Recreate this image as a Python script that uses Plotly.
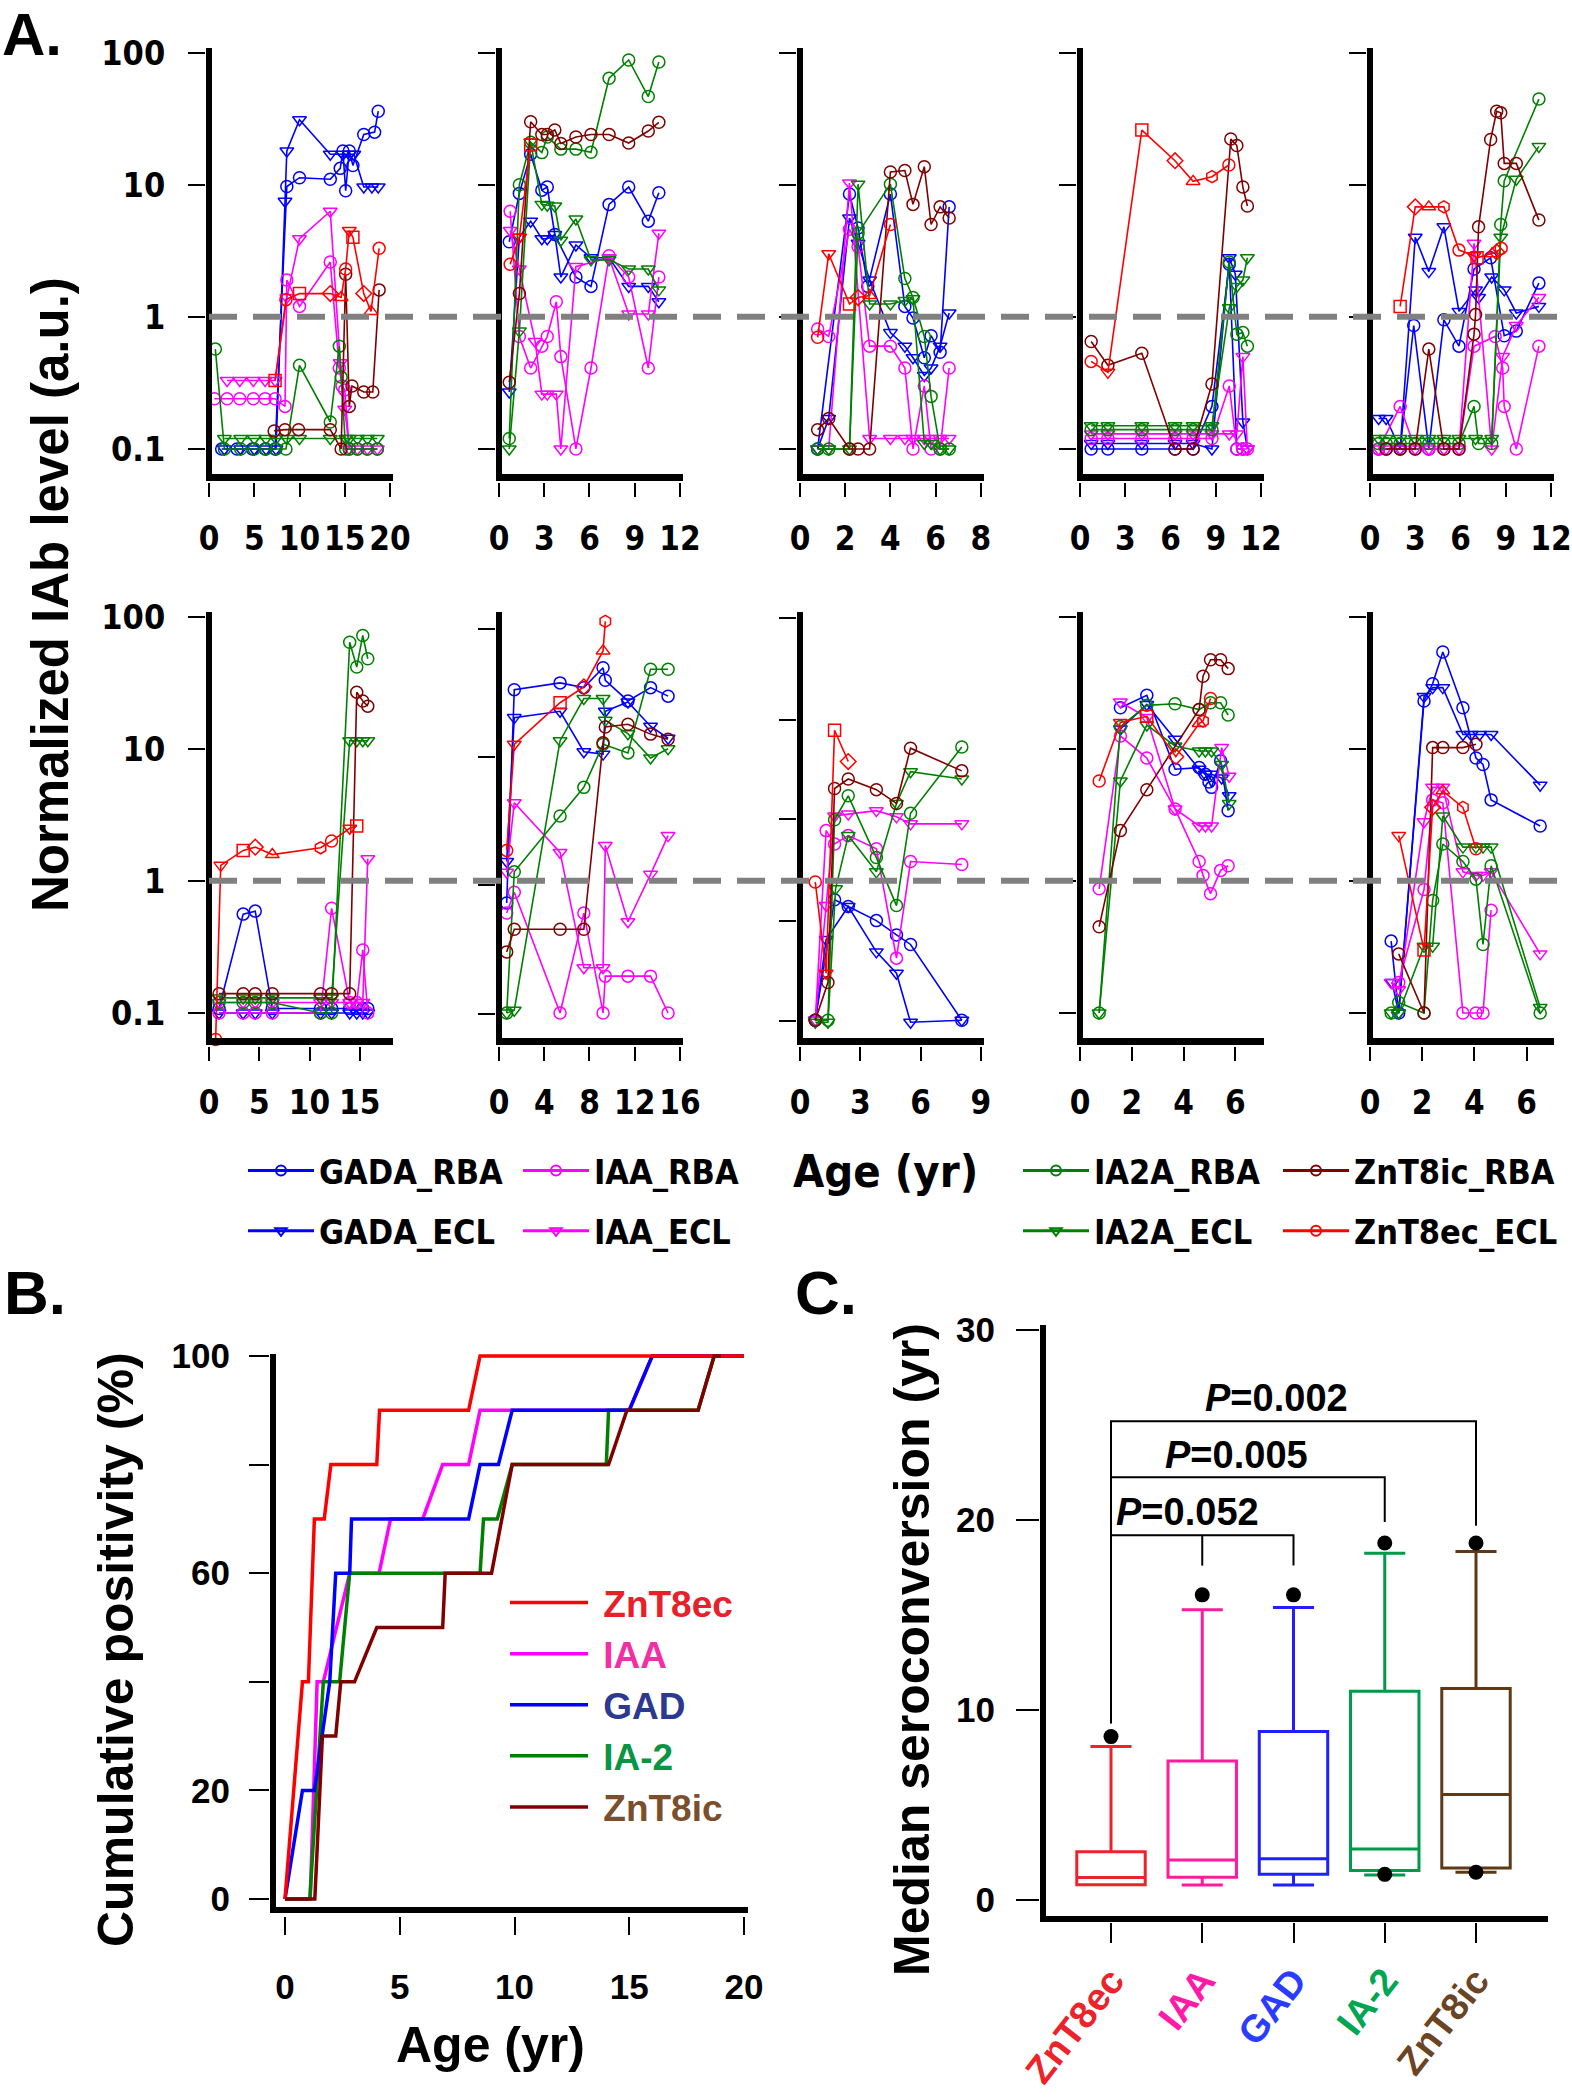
import plotly.graph_objects as go

W, H = 1572, 2100

# ---------------------------------------------------------------- Panel A data
SERIES = ["GADA_RBA", "GADA_ECL", "IAA_RBA", "IAA_ECL",
          "IA2A_RBA", "IA2A_ECL", "ZnT8ic_RBA", "ZnT8ec_ECL"]

# row 1, panel 1
p1_GADA_RBA_age = [1.4, 3.1, 4.8, 6.2, 7.3, 8.6, 10.0, 13.4, 14.5, 14.8, 15.1, 15.5, 15.9, 17.1, 18.3, 18.7]
p1_GADA_RBA_val = [0.1, 0.1, 0.1, 0.1, 0.1, 9.7, 11.3, 11.0, 13.3, 18.0, 9.0, 18.0, 14.0, 24.0, 25.0, 36.0]
p1_GADA_ECL_age = [1.7, 3.5, 5.0, 6.3, 7.4, 8.4, 8.6, 10.0, 13.4, 14.8, 15.5, 16.0, 17.1, 18.0, 18.7]
p1_GADA_ECL_val = [0.1, 0.1, 0.1, 0.1, 0.1, 7.5, 18.0, 31.0, 17.0, 17.0, 17.0, 17.0, 9.6, 9.6, 9.6]
p1_IAA_RBA_age = [0.6, 2.0, 3.4, 4.9, 6.2, 7.3, 8.4, 8.6, 10.0, 13.4, 14.4, 14.7, 15.0, 15.5, 16.4, 17.5, 18.6]
p1_IAA_RBA_val = [0.24, 0.24, 0.24, 0.24, 0.24, 0.24, 0.21, 1.9, 1.2, 2.6, 0.41, 0.3, 0.28, 0.1, 0.1, 0.1, 0.1]
p1_IAA_ECL_age = [2.0, 3.4, 4.9, 6.2, 7.3, 8.6, 10.0, 13.4, 14.5, 15.0, 15.5, 16.4, 17.5, 18.6]
p1_IAA_ECL_val = [0.33, 0.33, 0.33, 0.33, 0.33, 1.4, 3.9, 6.3, 0.45, 0.2, 0.1, 0.1, 0.1, 0.1]
p1_IA2A_RBA_age = [0.7, 1.7, 3.5, 5.0, 6.3, 7.4, 8.5, 10.0, 13.4, 14.4, 14.6, 15.1, 15.5, 16.4, 17.5, 18.6]
p1_IA2A_RBA_val = [0.57, 0.1, 0.1, 0.1, 0.1, 0.1, 0.1, 0.43, 0.16, 0.6, 0.35, 0.1, 0.1, 0.1, 0.1, 0.1]
p1_IA2A_ECL_age = [1.7, 3.5, 5.0, 6.3, 7.4, 8.6, 10.0, 13.4, 15.1, 15.5, 16.4, 17.5, 18.6]
p1_IA2A_ECL_val = [0.12, 0.12, 0.12, 0.12, 0.12, 0.12, 0.12, 0.12, 0.12, 0.12, 0.12, 0.12, 0.12]
p1_ZnT8ic_RBA_age = [7.2, 8.4, 9.9, 13.4, 14.6, 15.1, 15.5, 15.8, 17.1, 18.1, 18.8]
p1_ZnT8ic_RBA_val = [0.137, 0.14, 0.14, 0.14, 0.1, 2.1, 0.21, 0.3, 0.27, 0.27, 1.6]
p1_ZnT8ec_ECL_age = [7.3, 8.5, 10.0, 13.4, 14.6, 15.1, 15.5, 15.9, 17.1, 17.9, 18.8]
p1_ZnT8ec_ECL_val = [0.33, 1.35, 1.5, 1.5, 1.4, 2.3, 4.5, 4.0, 1.5, 1.1, 3.3]
p1_ZnT8ec_ECL_sym = "sosd^ovsd^o"

# row 1, panel 2
p2_GADA_RBA_age = [0.68, 1.35, 2.1, 2.84, 3.2, 3.7, 5.1, 6.1, 7.3, 8.6, 9.9, 10.6]
p2_GADA_RBA_val = [3.7, 8.6, 17, 9.1, 9.6, 4.2, 2.0, 1.7, 7.1, 9.6, 5.3, 8.7]
p2_GADA_ECL_age = [0.68, 1.35, 2.1, 2.84, 3.2, 3.7, 4.1, 5.1, 6.1, 7.3, 8.6, 9.9, 10.6]
p2_GADA_ECL_val = [0.27, 4.0, 5.3, 3.9, 3.9, 4.2, 2.0, 3.5, 2.8, 2.8, 1.7, 1.7, 1.3]
p2_IAA_RBA_age = [0.74, 1.35, 2.1, 2.84, 3.2, 3.8, 4.1, 5.1, 6.1, 7.3, 8.6, 9.9, 10.6]
p2_IAA_RBA_val = [6.3, 0.71, 0.41, 0.6, 0.71, 1.3, 0.5, 0.1, 0.41, 2.9, 2.0, 0.41, 2.0]
p2_IAA_ECL_age = [0.74, 1.35, 2.4, 2.84, 3.2, 3.8, 4.1, 5.1, 7.3, 8.6, 9.9, 10.6]
p2_IAA_ECL_val = [4.5, 2.3, 0.65, 0.26, 0.26, 0.26, 0.1, 2.4, 2.8, 1.05, 1.05, 4.3]
p2_IA2A_RBA_age = [0.68, 1.35, 2.1, 2.84, 3.2, 4.1, 5.1, 6.1, 7.3, 8.6, 9.9, 10.6]
p2_IA2A_RBA_val = [0.12, 10, 21, 17.5, 23, 18.6, 18.6, 17.6, 64, 88, 46.5, 85]
p2_IA2A_ECL_age = [0.68, 1.35, 2.1, 2.84, 3.2, 3.7, 4.1, 5.1, 6.1, 7.3, 8.6, 9.9, 10.6]
p2_IA2A_ECL_val = [0.1, 0.78, 21, 7.1, 7.0, 6.9, 3.8, 5.5, 2.7, 2.7, 2.3, 2.3, 1.6]
p2_ZnT8ic_RBA_age = [0.68, 1.35, 2.1, 2.84, 3.2, 3.7, 4.1, 5.1, 6.1, 7.3, 8.6, 9.9, 10.6]
p2_ZnT8ic_RBA_val = [0.32, 1.5, 30, 24, 24, 26, 20.5, 23, 24, 24, 20.7, 25.5, 29.7]
p2_ZnT8ec_ECL_age = [0.74, 1.35, 2.1]
p2_ZnT8ec_ECL_val = [2.5, 4.0, 20]
p2_ZnT8ec_ECL_sym = "ovs"

# row 1, panel 3
p3_GADA_RBA_age = [0.78, 2.19, 2.57, 3.0, 4.0, 4.64, 5.0, 5.5, 5.8, 6.2, 6.6]
p3_GADA_RBA_val = [0.1, 8.5, 4.7, 1.7, 8.5, 1.2, 0.98, 0.49, 0.72, 0.54, 6.8]
p3_GADA_ECL_age = [0.78, 1.27, 2.19, 2.57, 3.08, 4.0, 4.64, 5.0, 5.5, 5.8, 6.2, 6.6]
p3_GADA_ECL_val = [0.1, 0.17, 5.6, 3.6, 1.9, 0.76, 0.6, 0.49, 0.36, 0.41, 0.6, 1.07]
p3_IAA_RBA_age = [0.78, 1.27, 2.19, 2.57, 3.08, 4.0, 4.64, 5.0, 5.5, 5.8, 6.2, 6.6]
p3_IAA_RBA_val = [0.81, 0.71, 4.6, 3.4, 0.6, 0.6, 0.41, 0.1, 0.3, 0.1, 0.1, 0.41]
p3_IAA_ECL_age = [0.78, 1.27, 2.19, 3.08, 4.0, 4.64, 5.0, 5.5, 5.8, 6.2, 6.6]
p3_IAA_ECL_val = [0.1, 0.1, 10.3, 0.12, 0.12, 0.12, 0.12, 0.12, 0.12, 0.12, 0.12]
p3_IA2A_RBA_age = [0.78, 1.27, 2.19, 2.57, 4.0, 4.64, 5.0, 5.5, 5.8, 6.2, 6.6]
p3_IA2A_RBA_val = [0.1, 0.1, 0.1, 4.3, 10.1, 1.95, 1.4, 0.71, 0.25, 0.1, 0.1]
p3_IA2A_ECL_age = [0.78, 1.27, 2.19, 2.57, 3.08, 4.0, 4.64, 5.0, 5.5, 5.8, 6.2, 6.6]
p3_IA2A_ECL_val = [0.1, 0.1, 0.1, 10.1, 1.25, 1.25, 1.33, 1.37, 0.11, 0.11, 0.1, 0.1]
p3_ZnT8ic_RBA_age = [0.78, 1.27, 2.19, 2.57, 3.08, 4.0, 4.64, 5.0, 5.5, 5.8, 6.2, 6.6]
p3_ZnT8ic_RBA_val = [0.14, 0.17, 0.1, 0.1, 0.1, 12.5, 12.8, 7.1, 13.7, 5.0, 6.8, 5.6]
p3_ZnT8ec_ECL_age = [0.78, 1.27, 2.19, 2.57, 3.08, 4.0]
p3_ZnT8ec_ECL_val = [0.7, 3.0, 1.25, 1.4, 1.45, 5.0]
p3_ZnT8ec_ECL_sym = "ovsd^o"

# row 1, panel 4
p4_GADA_RBA_age = [0.74, 1.85, 4.1, 6.3, 7.5, 8.75, 9.9, 10.4, 10.8]
p4_GADA_RBA_val = [0.1, 0.1, 0.1, 0.1, 0.1, 0.21, 2.5, 0.1, 0.1]
p4_GADA_ECL_age = [0.74, 1.85, 4.1, 6.3, 7.5, 8.75, 9.9, 10.3, 10.8, 11.1]
p4_GADA_ECL_val = [0.11, 0.11, 0.11, 0.11, 0.11, 0.1, 2.8, 2.1, 0.16, 0.1]
p4_IAA_RBA_age = [0.74, 1.85, 4.1, 6.3, 7.5, 8.75, 9.9, 10.4, 10.8, 11.1]
p4_IAA_RBA_val = [0.12, 0.12, 0.12, 0.12, 0.12, 0.12, 0.3, 0.1, 0.1, 0.1]
p4_IAA_ECL_age = [0.74, 1.85, 4.1, 6.3, 7.5, 8.75, 9.9, 10.4, 10.8, 11.1]
p4_IAA_ECL_val = [0.13, 0.13, 0.13, 0.13, 0.13, 0.13, 0.13, 0.13, 0.5, 0.1]
p4_IA2A_RBA_age = [0.74, 1.85, 4.1, 6.3, 7.5, 8.75, 9.9, 10.4, 10.8, 11.1]
p4_IA2A_RBA_val = [0.14, 0.14, 0.14, 0.14, 0.14, 0.14, 2.6, 0.74, 0.76, 0.6]
p4_IA2A_ECL_age = [0.74, 1.85, 4.1, 6.3, 7.5, 8.75, 9.9, 10.4, 10.8, 11.1]
p4_IA2A_ECL_val = [0.15, 0.15, 0.15, 0.15, 0.15, 0.15, 1.17, 1.7, 1.9, 2.8]
p4_ZnT8ic_RBA_age = [0.74, 1.85, 4.1, 6.3, 7.5, 8.75, 10.0, 10.4, 10.8, 11.1]
p4_ZnT8ic_RBA_val = [0.65, 0.43, 0.53, 0.1, 0.1, 0.31, 22.2, 19.8, 9.6, 6.9]
p4_ZnT8ec_ECL_age = [0.74, 1.85, 4.1, 6.3, 7.5, 8.75, 9.87]
p4_ZnT8ec_ECL_val = [0.46, 0.38, 25.9, 15.2, 10.6, 11.5, 14.1]
p4_ZnT8ec_ECL_sym = "ovsd^ho"

# row 1, panel 5
p5_GADA_RBA_age = [0.57, 1.07, 2.0, 2.9, 3.9, 4.9, 5.9, 6.9, 8.0, 8.9, 9.7, 11.2]
p5_GADA_RBA_val = [0.1, 0.1, 0.1, 0.86, 0.1, 0.95, 0.6, 2.3, 2.8, 0.72, 0.78, 1.8]
p5_GADA_ECL_age = [0.57, 1.07, 2.0, 3.0, 3.9, 4.9, 5.9, 7.0, 7.2, 8.07, 8.9, 9.7, 11.2]
p5_GADA_ECL_val = [0.17, 0.17, 0.1, 4.0, 2.2, 4.8, 1.1, 1.6, 1.4, 2.0, 1.6, 1.07, 1.2]
p5_IAA_RBA_age = [0.57, 2.0, 3.0, 3.9, 4.9, 5.9, 6.9, 8.3, 8.8, 8.9, 9.7, 11.2]
p5_IAA_RBA_val = [0.1, 0.21, 0.1, 0.1, 0.1, 0.1, 0.6, 0.71, 0.41, 0.21, 0.1, 0.6]
p5_IAA_ECL_age = [0.57, 1.07, 2.0, 3.0, 3.9, 4.9, 5.9, 6.9, 8.07, 8.8, 9.7, 11.2]
p5_IAA_ECL_val = [0.1, 0.1, 0.1, 0.1, 0.1, 0.1, 0.1, 3.6, 0.1, 0.5, 0.86, 1.4]
p5_IA2A_RBA_age = [0.57, 1.07, 2.0, 3.0, 3.9, 4.9, 5.9, 6.9, 7.2, 8.07, 8.67, 8.9, 11.2]
p5_IA2A_RBA_val = [0.11, 0.11, 0.11, 0.11, 0.11, 0.11, 0.11, 0.21, 0.11, 0.11, 5.0, 10.7, 44.5]
p5_IA2A_ECL_age = [0.57, 1.07, 2.0, 3.0, 3.9, 4.9, 5.9, 7.0, 8.07, 8.67, 9.7, 11.2]
p5_IA2A_ECL_val = [0.12, 0.12, 0.12, 0.12, 0.12, 0.12, 0.12, 0.12, 0.12, 4.0, 11, 19.5]
p5_ZnT8ic_RBA_age = [1.07, 2.0, 3.0, 3.9, 4.9, 5.9, 6.9, 7.0, 7.2, 8.0, 8.4, 8.67, 8.9, 9.7, 11.2]
p5_ZnT8ic_RBA_val = [0.1, 0.1, 0.1, 0.57, 0.1, 0.1, 0.74, 1.04, 4.8, 22, 36, 35, 14.5, 14.5, 5.4]
p5_ZnT8ec_ECL_age = [2.0, 3.0, 3.9, 4.9, 5.9, 6.9, 7.1, 8.1, 8.4, 8.7]
p5_ZnT8ec_ECL_val = [1.2, 6.8, 6.8, 6.8, 3.2, 2.9, 2.8, 3.0, 3.1, 3.3]
p5_ZnT8ec_ECL_sym = "sd^hovs^do"

# row 2, panel 1
p6_GADA_RBA_age = [1.0, 3.4, 4.6, 6.3, 11.1, 12.2, 14.0, 14.7, 15.3, 15.8]
p6_GADA_RBA_val = [0.108, 0.56, 0.59, 0.108, 0.108, 0.108, 0.108, 0.108, 0.108, 0.108]
p6_GADA_ECL_age = [1.0, 3.4, 4.6, 6.3, 11.1, 12.2, 14.0, 14.7, 15.3, 15.8]
p6_GADA_ECL_val = [0.1, 0.1, 0.1, 0.1, 0.1, 0.1, 0.1, 0.1, 0.1, 0.1]
p6_IAA_RBA_age = [1.0, 3.4, 4.6, 6.3, 11.1, 12.2, 14.0, 14.7, 15.3, 15.8]
p6_IAA_RBA_val = [0.1, 0.1, 0.1, 0.1, 0.1, 0.62, 0.12, 0.12, 0.3, 0.1]
p6_IAA_ECL_age = [1.0, 3.4, 4.6, 6.3, 11.1, 12.2, 14.0, 14.7, 15.3, 15.8]
p6_IAA_ECL_val = [0.12, 0.12, 0.12, 0.12, 0.12, 0.12, 0.12, 0.12, 0.12, 1.47]
p6_IA2A_RBA_age = [1.0, 3.4, 4.6, 6.3, 11.1, 12.2, 14.0, 14.7, 15.3, 15.8]
p6_IA2A_RBA_val = [0.12, 0.12, 0.12, 0.12, 0.1, 0.1, 64, 41.5, 72, 48]
p6_IA2A_ECL_age = [1.0, 3.4, 4.6, 6.3, 11.1, 12.2, 14.0, 14.7, 15.3, 15.8]
p6_IA2A_ECL_val = [0.13, 0.13, 0.13, 0.13, 0.13, 0.13, 11.5, 11.5, 11.5, 11.5]
p6_ZnT8ic_RBA_age = [1.0, 3.4, 4.6, 6.3, 11.1, 12.2, 14.0, 14.7, 15.3, 15.8]
p6_ZnT8ic_RBA_val = [0.14, 0.14, 0.14, 0.14, 0.14, 0.14, 0.14, 26.8, 23, 21]
p6_ZnT8ec_ECL_age = [0.66, 1.17, 3.4, 4.6, 6.3, 11.1, 12.2, 14.0, 14.7]
p6_ZnT8ec_ECL_val = [0.063, 1.31, 1.7, 1.8, 1.58, 1.78, 2.0, 2.5, 2.6]
p6_ZnT8ec_ECL_sym = "ovsd^hovs"

# row 2, panel 2
p7_GADA_RBA_age = [0.68, 1.35, 5.4, 7.5, 9.2, 9.4, 11.4, 13.4, 14.95]
p7_GADA_RBA_val = [0.68, 28, 31.5, 29, 41, 33, 23, 29, 25]
p7_GADA_ECL_age = [0.68, 1.35, 5.4, 7.5, 9.2, 9.4, 11.4, 13.4, 14.95]
p7_GADA_ECL_val = [1.4, 17.2, 19.2, 9.5, 9.1, 19.2, 22.6, 14.8, 12]
p7_IAA_RBA_age = [0.68, 1.35, 5.4, 7.5, 9.2, 9.4, 11.4, 13.4, 14.95]
p7_IAA_RBA_val = [0.57, 0.82, 0.1, 0.57, 0.1, 0.19, 0.19, 0.19, 0.1]
p7_IAA_ECL_age = [0.68, 1.35, 5.4, 7.5, 9.2, 9.4, 11.4, 13.4, 14.95]
p7_IAA_ECL_val = [1.16, 3.9, 1.64, 0.22, 0.22, 1.85, 0.49, 1.12, 2.2]
p7_IA2A_RBA_age = [0.68, 1.35, 5.4, 7.5, 9.2, 11.4, 13.4, 14.95]
p7_IA2A_RBA_val = [0.1, 1.17, 3.1, 5.1, 10.8, 9.3, 40, 40]
p7_IA2A_ECL_age = [0.68, 1.35, 5.4, 7.5, 9.2, 9.4, 11.4, 13.4, 14.95]
p7_IA2A_ECL_val = [0.1, 0.105, 11.5, 24, 24, 16.4, 13, 8.5, 10]
p7_ZnT8ic_RBA_age = [0.68, 1.35, 5.4, 7.5, 9.2, 9.4, 11.4, 13.4, 14.95]
p7_ZnT8ic_RBA_val = [0.29, 0.43, 0.43, 0.43, 11.1, 14.6, 15.3, 12.9, 11.8]
p7_ZnT8ec_ECL_age = [0.68, 1.35, 5.4, 7.5, 9.2, 9.4]
p7_ZnT8ec_ECL_val = [1.7, 10.8, 22.3, 29.4, 55, 92]
p7_ZnT8ec_ECL_sym = "ovsd^h"

# row 2, panel 3
p8_GADA_RBA_age = [0.76, 1.72, 2.4, 3.8, 4.8, 5.5, 8.05]
p8_GADA_RBA_val = [0.088, 0.72, 0.64, 0.5, 0.39, 0.33, 0.088]
p8_GADA_ECL_age = [0.76, 1.3, 2.4, 3.8, 4.8, 5.5, 8.05]
p8_GADA_ECL_val = [0.088, 0.36, 0.64, 0.29, 0.2, 0.085, 0.088]
p8_IAA_RBA_age = [0.76, 1.3, 1.72, 2.4, 3.8, 4.8, 5.5, 8.05]
p8_IAA_RBA_val = [0.088, 2.4, 1.9, 2.2, 1.75, 0.26, 1.4, 1.33]
p8_IAA_ECL_age = [0.76, 1.3, 1.72, 2.4, 3.8, 4.8, 5.5, 8.05]
p8_IAA_ECL_val = [0.088, 0.65, 3.1, 3.2, 3.4, 3.05, 2.7, 2.7]
p8_IA2A_RBA_age = [0.76, 1.39, 1.72, 2.4, 3.8, 4.8, 5.5, 8.05]
p8_IA2A_RBA_val = [0.088, 0.088, 2.9, 4.4, 1.5, 0.65, 3.25, 10.3]
p8_IA2A_ECL_age = [0.76, 1.39, 1.77, 2.4, 3.8, 4.8, 5.5, 8.05]
p8_IA2A_ECL_val = [0.085, 0.085, 0.87, 2.2, 1.17, 3.85, 6.7, 5.9]
p8_ZnT8ic_RBA_age = [0.76, 1.39, 1.72, 2.4, 3.8, 4.8, 5.5, 8.05]
p8_ZnT8ic_RBA_val = [0.088, 0.17, 5.0, 5.9, 4.9, 3.85, 10.1, 6.8]
p8_ZnT8ec_ECL_age = [0.76, 1.3, 1.72, 2.4]
p8_ZnT8ec_ECL_val = [0.98, 0.2, 13.8, 8.0]
p8_ZnT8ec_ECL_sym = "ovsd"

# row 2, panel 4
p9_GADA_RBA_age = [1.56, 2.58, 3.67, 4.6, 4.84, 4.98, 5.08, 5.43, 5.72]
p9_GADA_RBA_val = [20.4, 25.4, 7.0, 7.2, 6.4, 5.6, 5.1, 8.1, 3.4]
p9_GADA_ECL_age = [1.56, 2.58, 3.67, 4.6, 4.84, 5.08, 5.47, 5.76]
p9_GADA_ECL_val = [14.1, 21.6, 11.8, 7.0, 6.4, 6.4, 6.0, 4.4]
p9_IAA_RBA_age = [0.74, 1.56, 2.58, 3.67, 4.6, 4.75, 5.04, 5.43, 5.72]
p9_IAA_RBA_val = [0.87, 12.5, 8.5, 3.5, 1.4, 1.1, 0.8, 1.2, 1.3]
p9_IAA_ECL_age = [1.56, 2.58, 3.67, 4.6, 4.84, 5.08, 5.47, 5.76]
p9_IAA_ECL_val = [22.6, 17.2, 3.5, 2.6, 2.6, 2.6, 10.2, 6.2]
p9_IA2A_RBA_age = [0.74, 1.56, 2.58, 3.67, 4.6, 5.04, 5.43, 5.72]
p9_IA2A_RBA_val = [0.1, 14.7, 21.3, 21.9, 19.8, 22.3, 22.3, 18]
p9_IA2A_ECL_age = [0.74, 1.56, 2.58, 3.67, 4.6, 4.84, 5.08, 5.47, 5.76]
p9_IA2A_ECL_val = [0.1, 5.7, 15.1, 10.5, 9.6, 9.6, 9.6, 7.6, 3.85]
p9_ZnT8ic_RBA_age = [0.74, 1.56, 2.58, 4.6, 4.75, 5.04, 5.43, 5.72]
p9_ZnT8ic_RBA_val = [0.45, 2.4, 4.9, 19.8, 35.4, 47.2, 47.2, 40.4]
p9_ZnT8ec_ECL_age = [0.74, 1.56, 2.58, 3.7, 4.6, 4.75, 5.04]
p9_ZnT8ec_ECL_val = [5.7, 15.8, 17.6, 8.7, 15.5, 16.2, 24]
p9_ZnT8ec_ECL_sym = "ovsd^ho"

# row 2, panel 5
p10_GADA_RBA_age = [0.81, 1.1, 2.07, 2.4, 2.79, 3.56, 4.06, 4.33, 4.64, 6.52]
p10_GADA_RBA_val = [0.35, 0.1, 23, 31, 54, 20.4, 8.5, 7.6, 4.1, 2.6]
p10_GADA_ECL_age = [0.85, 1.1, 2.07, 2.4, 2.79, 3.56, 3.87, 4.2, 4.64, 6.52]
p10_GADA_ECL_val = [0.17, 0.1, 24.8, 29, 29, 12.8, 12.8, 12.8, 12.8, 5.3]
p10_IAA_RBA_age = [1.1, 2.07, 2.4, 2.79, 3.56, 4.06, 4.33, 4.64]
p10_IAA_RBA_val = [0.17, 0.86, 4.1, 3.9, 0.1, 0.1, 0.1, 0.6]
p10_IAA_ECL_age = [0.81, 1.1, 2.07, 2.4, 2.79, 3.56, 4.06, 4.33, 4.64, 6.52]
p10_IAA_ECL_val = [0.17, 0.15, 2.8, 5.1, 5.1, 1.17, 1.1, 1.1, 1.17, 0.28]
p10_IA2A_RBA_age = [0.81, 1.1, 2.07, 2.4, 2.79, 3.56, 4.06, 4.33, 4.64, 6.52]
p10_IA2A_RBA_val = [0.1, 0.12, 0.1, 0.71, 1.9, 1.4, 1.03, 0.33, 1.3, 0.1]
p10_IA2A_ECL_age = [0.81, 1.1, 2.07, 2.4, 2.79, 3.56, 4.06, 4.33, 4.64, 6.52]
p10_IA2A_ECL_val = [0.1, 0.1, 0.32, 0.32, 3.1, 1.8, 1.8, 1.8, 1.8, 0.11]
p10_ZnT8ic_RBA_age = [1.1, 2.07, 2.4, 2.79, 3.56, 4.06]
p10_ZnT8ic_RBA_val = [0.28, 0.1, 10.2, 10.2, 10.2, 10.8]
p10_ZnT8ec_ECL_age = [1.1, 2.07, 2.4, 2.79, 3.56, 4.06]
p10_ZnT8ec_ECL_val = [2.2, 0.3, 3.6, 4.8, 3.6, 1.75]
p10_ZnT8ec_ECL_sym = "vsd^ho"

A_xticks = [[0, 5, 10, 15, 20], [0, 3, 6, 9, 12], [0, 2, 4, 6, 8], [0, 3, 6, 9, 12], [0, 3, 6, 9, 12],
            [0, 5, 10, 15], [0, 4, 8, 12, 16], [0, 3, 6, 9], [0, 2, 4, 6], [0, 2, 4, 6]]
A_yticks = [0.1, 1, 10, 100]
A_yticklabels = ["0.1", "1", "10", "100"]
A_yticks_p7 = [0.098, 0.93, 8.7, 81]
A_yticks_p8 = [0.087, 0.5, 2.95, 16.6, 98]

# ---------------------------------------------------------------- Panel B data
B_ZnT8ec_age = [0, 0.76, 1.02, 1.28, 1.71, 2.0, 4.0, 4.12, 8.0, 8.5, 20]
B_ZnT8ec_pct = [0, 40, 40, 70, 70, 80, 80, 90, 90, 100, 100]
B_IAA_age = [0, 1.1, 1.4, 1.67, 2.82, 4.1, 4.6, 6.0, 6.87, 8.0, 8.5, 9.9, 15.0, 16.0, 20]
B_IAA_pct = [0, 0, 40, 40, 60, 60, 70, 70, 80, 80, 90, 90, 90, 100, 100]
B_GAD_age = [0, 0.76, 1.28, 1.95, 2.21, 2.82, 2.9, 8.0, 8.5, 9.3, 9.9, 15.0, 16.0, 20]
B_GAD_pct = [0, 20, 20, 40, 60, 60, 70, 70, 80, 80, 90, 90, 100, 100]
B_IA2_age = [0, 1.08, 1.67, 2.38, 2.82, 8.5, 8.65, 9.25, 9.9, 14.0, 14.1, 18.0, 18.7, 19.0]
B_IA2_pct = [0, 0, 40, 40, 60, 60, 70, 70, 80, 80, 90, 90, 100, 100]
B_ZnT8ic_age = [0, 1.3, 1.63, 2.21, 2.43, 3.03, 4.0, 6.87, 6.98, 9.0, 9.9, 14.1, 14.9, 18.0, 18.7, 19.0]
B_ZnT8ic_pct = [0, 0, 30, 30, 40, 40, 50, 50, 60, 60, 80, 80, 90, 90, 100, 100]
B_yticks = [0, 20, 40, 60, 80, 100]
B_yticklabels = ["0", "20", "", "60", "", "100"]
B_xticks = [0, 5, 10, 15, 20]

# ---------------------------------------------------------------- Panel C data
C_groups = ["ZnT8ec", "IAA", "GAD", "IA-2", "ZnT8ic"]
C_q1 = [0.8, 1.2, 1.35, 1.55, 1.69]
C_median = [1.18, 2.11, 2.17, 2.68, 5.55]
C_q3 = [2.54, 7.32, 8.87, 10.99, 11.13]
C_lower = [0.8, 0.79, 0.79, 1.32, 1.46]
C_upper = [8.08, 15.27, 15.4, 18.25, 18.34]
C_out_group = ["ZnT8ec", "IAA", "GAD", "IA-2", "IA-2", "ZnT8ic", "ZnT8ic"]
C_out_val = [8.6, 16.06, 16.06, 18.79, 1.35, 18.79, 1.46]
C_yticks = [0, 10, 20, 30]
C_cmp_right = ["GAD", "IA-2", "ZnT8ic"]
C_cmp_level = [19.2, 22.25, 25.2]
C_cmp_right_bottom = [17.6, 19.9, 19.7]
C_cmp_left_bottom = 9.3
C_cmp_mid = "IAA"
C_cmp_mid_bottom = 17.6
C_cmp_label = ["0.052", "0.005", "0.002"]
C_cmp_label_x = [0.03, 0.57, 1.01]
C_cmp_label_y = [20.4, 23.4, 26.4]

# ---------------------------------------------------------------- styles
NARROW = "DejaVu Sans Condensed, Liberation Sans Narrow, sans-serif"
ARIAL = "Liberation Sans, Arial, Helvetica, sans-serif"
A_COLOR = {"GADA": "#0000ff", "IAA": "#ff00ff", "IA2A": "#008000", "ZnT8ic": "#800000", "ZnT8ec": "#ff0000"}
SYM = {"o": "circle-open", "s": "square-open", "d": "diamond-open", "^": "triangle-up-open",
       "h": "hexagon-open", "v": "triangle-down-open"}
B_LINE = {"ZnT8ec": "#ff0000", "IAA": "#ff00ff", "GAD": "#0000ff", "IA-2": "#008000", "ZnT8ic": "#800000"}
B_TEXT = {"ZnT8ec": "#e8202a", "IAA": "#f52ea6", "GAD": "#2b3990", "IA-2": "#0b9444", "ZnT8ic": "#7b4f2c"}
C_BOX = {"ZnT8ec": "#ee2229", "IAA": "#ff1c9c", "GAD": "#1f1fff", "IA-2": "#009a49", "ZnT8ic": "#5e3a14"}
C_TEXT = {"ZnT8ec": "#ee2229", "IAA": "#ff1aa8", "GAD": "#2a3cff", "IA-2": "#00a651", "ZnT8ic": "#6b4423"}


def xp(p):
    return p / W


def yp(p):
    return 1 - p / H


fig = go.Figure()
shapes = []
annotations = []
layout = dict(width=W, height=H, margin=dict(l=0, r=0, t=0, b=0, autoexpand=False),
              paper_bgcolor="white", plot_bgcolor="rgba(0,0,0,0)", showlegend=True)

# ---------------------------------------------------------------- Panel A
A_P0 = [209, 499, 800, 1080, 1370]
A_ROWS = [(46, 482), (610, 1046)]
A_PPU = [[9.05, 15.08, 22.6, 15.08, 15.08], [10.05, 11.31, 20.1, 25.9, 26.1]]
YLOG = [-1.25, 2.05]

for n in range(1, 11):
    r, c = (n - 1) // 5, (n - 1) % 5
    P0 = A_P0[c]
    T, B = A_ROWS[r]
    ppu = A_PPU[r][c]
    L, R = P0 - 3, P0 + 184
    ax = "" if n == 1 else str(n)
    yt = A_yticks
    if n == 7:
        yt = A_yticks_p7
    if n == 8:
        yt = A_yticks_p8
    layout["xaxis" + ax] = dict(
        domain=[xp(L), xp(R)], range=[-3 / ppu, 184 / ppu], anchor="y" + ax,
        tickvals=A_xticks[n - 1], ticks="outside", ticklen=14, tickwidth=2, tickcolor="black",
        showline=False, showgrid=False, zeroline=False, tickangle=0,
        tickfont=dict(family=NARROW, size=33, color="black", weight="bold"),
        ticklabelstandoff=13)
    layout["yaxis" + ax] = dict(
        domain=[yp(B), yp(T)], type="log", range=YLOG, anchor="x" + ax,
        tickvals=yt, ticktext=A_yticklabels if c == 0 else None,
        showticklabels=(c == 0), ticks="outside", ticklen=17, tickwidth=2, tickcolor="black",
        showline=False, showgrid=False, zeroline=False,
        tickfont=dict(family=NARROW, size=34, color="black", weight="bold"),
        ticklabelstandoff=16)
    # thick L-shaped frame
    shapes.append(dict(type="line", xref="paper", yref="paper", x0=xp(P0), x1=xp(P0),
                       y0=yp(T + 2), y1=yp(B - 1), line=dict(color="black", width=6)))
    shapes.append(dict(type="line", xref="paper", yref="paper", x0=xp(P0 - 3), x1=xp(P0 + 184),
                       y0=yp(B - 4.5), y1=yp(B - 4.5), line=dict(color="black", width=7)))
    for s in SERIES:
        ages = globals()[f"p{n}_{s}_age"]
        vals = globals()[f"p{n}_{s}_val"]
        key = s.split("_")[0]
        col = A_COLOR[key]
        if s == "ZnT8ec_ECL":
            sym = [SYM[k] for k in globals()[f"p{n}_{s}_sym"]]
        elif s.endswith("RBA"):
            sym = "circle-open"
        else:
            sym = "triangle-down-open"
        fig.add_trace(go.Scatter(
            x=ages, y=vals, mode="lines+markers", xaxis="x" + ax, yaxis="y" + ax,
            line=dict(color=col, width=1.6),
            marker=dict(symbol=sym, size=12, color=col, line=dict(color=col, width=1.5)),
            cliponaxis=False, showlegend=False, name=s))

# dashed threshold line at 1 a.u. across each row
for ax in ["", "6"]:
    shapes.append(dict(type="line", xref="paper", yref="y" + ax, x0=xp(209), x1=xp(1560),
                       y0=1, y1=1, layer="above",
                       line=dict(color="#808080", width=6, dash="28px,16px")))

# legends for panel A (legend-only entries)
A_LEG = [("legend", ["GADA_RBA", "GADA_ECL"], 243),
         ("legend2", ["IAA_RBA", "IAA_ECL"], 518),
         ("legend3", ["IA2A_RBA", "IA2A_ECL"], 1018),
         ("legend4", ["ZnT8ic_RBA", "ZnT8ec_ECL"], 1278)]
for lg, names, xpix in A_LEG:
    for nm in names:
        key = nm.split("_")[0]
        col = A_COLOR[key]
        sym = "circle-open" if (nm.endswith("RBA") or key == "ZnT8ec") else "triangle-down-open"
        fig.add_trace(go.Scatter(
            x=[None], y=[None], mode="lines+markers", name=nm, legend=lg, legendgroup=nm,
            line=dict(color=col, width=3),
            marker=dict(symbol=sym, size=10, color=col, line=dict(color=col, width=2)),
            showlegend=True, xaxis="x", yaxis="y"))
    layout[lg] = dict(x=xp(xpix), y=yp(1142), xanchor="left", yanchor="top",
                      orientation="v", itemwidth=66, tracegroupgap=13, traceorder="grouped",
                      bgcolor="rgba(0,0,0,0)", borderwidth=0,
                      font=dict(family=NARROW, size=34, color="black", weight="bold"))

annotations.append(dict(text="Age (yr)", x=xp(886), y=yp(1171), xref="paper", yref="paper",
                        showarrow=False, xanchor="center", yanchor="middle",
                        font=dict(family=NARROW, size=45, color="black", weight="bold")))
annotations.append(dict(text="Normalized IAb level (a.u.)", x=xp(50), y=yp(595), xref="paper",
                        yref="paper", showarrow=False, textangle=-90, xanchor="center",
                        yanchor="middle", font=dict(family=ARIAL, size=51, color="black",
                                                    weight="bold")))
annotations.append(dict(text="A.", x=xp(0), y=yp(34), xref="paper", yref="paper", showarrow=False,
                        xanchor="left", yanchor="middle",
                        font=dict(family=ARIAL, size=60, color="black", weight="bold")))

# ---------------------------------------------------------------- Panel B
BL, BR, BT, BB = 270, 747, 1352, 1916
B_X0, B_PPU = 285, 22.95
B_Y0, B_YPPU = 1899, 5.43
layout["xaxis11"] = dict(domain=[xp(BL), xp(BR)],
                         range=[(BL - B_X0) / B_PPU, (BR - B_X0) / B_PPU], anchor="y11",
                         tickvals=B_xticks, ticks="outside", ticklen=18, tickwidth=2,
                         tickcolor="black", showline=False, showgrid=False, zeroline=False,
                         tickangle=0, ticklabelstandoff=22,
                         tickfont=dict(family=ARIAL, size=35, color="black", weight="bold"))
layout["yaxis11"] = dict(domain=[yp(BB), yp(BT)],
                         range=[-(BB - B_Y0) / B_YPPU, (B_Y0 - BT) / B_YPPU], anchor="x11",
                         tickvals=B_yticks, ticktext=B_yticklabels, ticks="outside", ticklen=20,
                         tickwidth=2, tickcolor="black", showline=False, showgrid=False,
                         zeroline=False, ticklabelstandoff=12,
                         tickfont=dict(family=ARIAL, size=35, color="black", weight="bold"))
shapes.append(dict(type="line", xref="paper", yref="paper", x0=xp(273), x1=xp(273),
                   y0=yp(1354), y1=yp(1913), line=dict(color="black", width=6)))
shapes.append(dict(type="line", xref="paper", yref="paper", x0=xp(270), x1=xp(748),
                   y0=yp(1910), y1=yp(1910), line=dict(color="black", width=6)))

B_SERIES = [("IAA", B_IAA_age, B_IAA_pct, 2), ("IA-2", B_IA2_age, B_IA2_pct, 4),
            ("GAD", B_GAD_age, B_GAD_pct, 3), ("ZnT8ec", B_ZnT8ec_age, B_ZnT8ec_pct, 1),
            ("ZnT8ic", B_ZnT8ic_age, B_ZnT8ic_pct, 5)]
for nm, xs, ys, rank in B_SERIES:
    fig.add_trace(go.Scatter(
        x=xs, y=ys, mode="lines", xaxis="x11", yaxis="y11",
        line=dict(color=B_LINE[nm], width=3.5), cliponaxis=False,
        name=f'\u00a0<span style="color:{B_TEXT[nm]}">{nm}</span>', legend="legend5",
        legendrank=rank, showlegend=True))
layout["legend5"] = dict(x=xp(505), y=yp(1572), xanchor="left", yanchor="top",
                         orientation="v", itemwidth=78, tracegroupgap=0,
                         bgcolor="rgba(0,0,0,0)",
                         font=dict(family=ARIAL, size=37, color="black", weight="bold"))

annotations.append(dict(text="Cumulative positivity (%)", x=xp(116), y=yp(1650), xref="paper",
                        yref="paper", showarrow=False, textangle=-90, xanchor="center",
                        yanchor="middle",
                        font=dict(family=ARIAL, size=50, color="black", weight="bold")))
annotations.append(dict(text="Age (yr)", x=xp(490), y=yp(2045), xref="paper", yref="paper",
                        showarrow=False, xanchor="center", yanchor="middle",
                        font=dict(family=ARIAL, size=50, color="black", weight="bold")))
annotations.append(dict(text="B.", x=xp(2), y=yp(1292), xref="paper", yref="paper",
                        showarrow=False, xanchor="left", yanchor="middle",
                        font=dict(family=ARIAL, size=62, color="black", weight="bold")))

# ---------------------------------------------------------------- Panel C
CL, CR, CT, CB = 1040, 1548, 1325, 1922
C_X0, C_XPPU = 1111, 91.25
C_Y0, C_YPPU = 1900, 19.0
layout["xaxis12"] = dict(domain=[xp(CL), xp(CR)], type="category", categoryorder="array",
                         categoryarray=C_groups,
                         range=[(CL - C_X0) / C_XPPU, (CR - C_X0) / C_XPPU], anchor="y12",
                         tickvals=C_groups,
                         ticktext=[f'<span style="color:{C_TEXT[g]}">{g}</span>' for g in C_groups],
                         ticks="outside", ticklen=20, tickwidth=2, tickcolor="black",
                         showline=False, showgrid=False, zeroline=False, tickangle=-52,
                         tickfont=dict(family=ARIAL, size=38, color="black", weight="bold"))
layout["yaxis12"] = dict(domain=[yp(CB), yp(CT)],
                         range=[-(CB - C_Y0) / C_YPPU, (C_Y0 - CT) / C_YPPU], anchor="x12",
                         tickvals=C_yticks, ticks="outside", ticklen=23, tickwidth=2,
                         tickcolor="black", showline=False, showgrid=False, zeroline=False,
                         ticklabelstandoff=14,
                         tickfont=dict(family=ARIAL, size=35, color="black", weight="bold"))
shapes.append(dict(type="line", xref="paper", yref="paper", x0=xp(1043), x1=xp(1043),
                   y0=yp(1325), y1=yp(1922), line=dict(color="black", width=6)))
shapes.append(dict(type="line", xref="paper", yref="paper", x0=xp(1040), x1=xp(1548),
                   y0=yp(1919), y1=yp(1919), line=dict(color="black", width=6)))

for i, g in enumerate(C_groups):
    fig.add_trace(go.Box(
        x=[g], q1=[C_q1[i]], median=[C_median[i]], q3=[C_q3[i]],
        lowerfence=[C_lower[i]], upperfence=[C_upper[i]], xaxis="x12", yaxis="y12",
        width=0.75, whiskerwidth=0.6, boxpoints=False, line=dict(color=C_BOX[g], width=3),
        fillcolor="rgba(255,255,255,0)", showlegend=False, name=g))

fig.add_trace(go.Scatter(x=C_out_group, y=C_out_val, mode="markers", xaxis="x12", yaxis="y12",
                         marker=dict(color="black", size=15), showlegend=False, cliponaxis=False))

# comparison brackets
for i, rg in enumerate(C_cmp_right):
    fig.add_trace(go.Scatter(
        x=[C_groups[0], C_groups[0], rg, rg],
        y=[C_cmp_left_bottom, C_cmp_level[i], C_cmp_level[i], C_cmp_right_bottom[i]],
        mode="lines", xaxis="x12", yaxis="y12", line=dict(color="black", width=2),
        showlegend=False, cliponaxis=False))
    annotations.append(dict(text=f"<i>P</i>={C_cmp_label[i]}", x=C_cmp_label_x[i],
                            y=C_cmp_label_y[i], xref="x12", yref="y12", showarrow=False,
                            xanchor="left", yanchor="middle",
                            font=dict(family=ARIAL, size=38, color="black", weight="bold")))
fig.add_trace(go.Scatter(x=[C_cmp_mid, C_cmp_mid], y=[C_cmp_level[0], C_cmp_mid_bottom],
                         mode="lines", xaxis="x12", yaxis="y12",
                         line=dict(color="black", width=2), showlegend=False))

annotations.append(dict(text="Median seroconversion (yr)", x=xp(912), y=yp(1650), xref="paper",
                        yref="paper", showarrow=False, textangle=-90, xanchor="center",
                        yanchor="middle",
                        font=dict(family=ARIAL, size=50, color="black", weight="bold")))
annotations.append(dict(text="C.", x=xp(793), y=yp(1292), xref="paper", yref="paper",
                        showarrow=False, xanchor="left", yanchor="middle",
                        font=dict(family=ARIAL, size=62, color="black", weight="bold")))

layout["shapes"] = shapes
layout["annotations"] = annotations
fig.update_layout(**layout)
fig.write_html("out.html", config={"displayModeBar": False},
               post_script="document.body.style.margin='0px';")
